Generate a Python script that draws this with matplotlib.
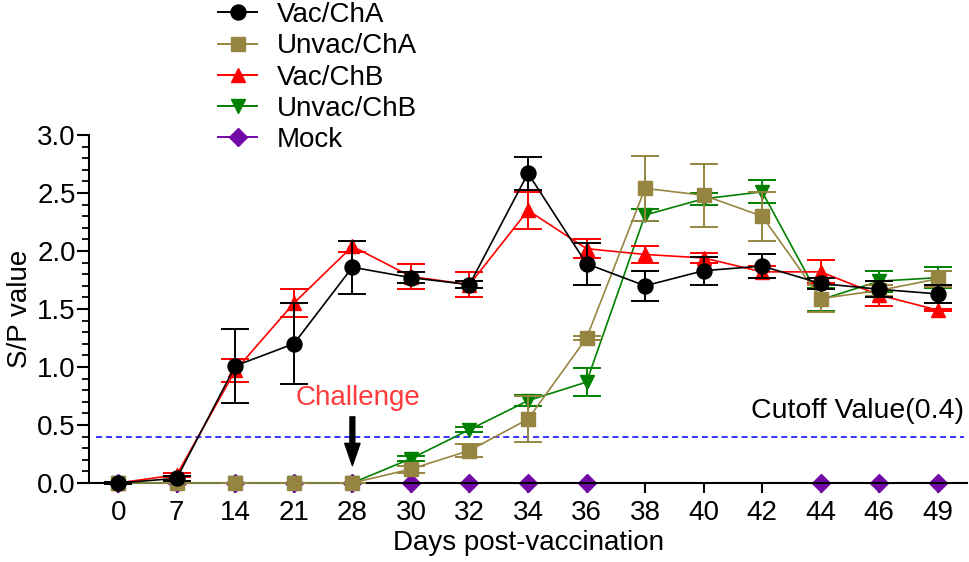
import numpy as np
import matplotlib
matplotlib.use('Agg')
import matplotlib.pyplot as plt
from matplotlib.ticker import MultipleLocator, FormatStrFormatter
from matplotlib.lines import Line2D

plt.rcParams['font.family'] = ['Liberation Sans', 'DejaVu Sans']

# data
days = ['0', '7', '14', '21', '28', '30', '32', '34', '36', '38', '40', '42', '44', '46', '49']

vac_cha = [0, 0.04, 1.01, 1.20, 1.86, 1.77, 1.71, 2.67, 1.89, 1.70, 1.83, 1.87, 1.72, 1.67, 1.63]
vac_cha_err = [0.01, 0.02, 0.32, 0.35, 0.23, 0.05, 0.03, 0.14, 0.18, 0.13, 0.12, 0.10, 0.05, 0.07, 0.075]

unvac_cha = [0, 0, 0, 0, 0, 0.12, 0.28, 0.55, 1.25, 2.54, 2.48, 2.30, 1.59, 1.66, 1.76]
unvac_cha_err = [0, 0, 0, 0, 0, 0.03, 0.06, 0.20, 0.02, 0.28, 0.27, 0.21, 0.12, 0.05, 0.07]

vac_chb = [0, 0.07, 0.97, 1.55, 2.04, 1.78, 1.71, 2.35, 2.02, 1.97, 1.94, 1.82, 1.82, 1.62, 1.49]
vac_chb_err = [0, 0.02, 0.10, 0.12, 0.05, 0.11, 0.11, 0.16, 0.08, 0.07, 0.04, 0.05, 0.10, 0.09, 0.01]

unvac_chb = [0, 0, 0, 0, 0, 0.21, 0.46, 0.71, 0.87, 2.31, 2.45, 2.51, 1.58, 1.74, 1.77]
unvac_chb_err = [0, 0, 0, 0, 0, 0.02, 0.02, 0.05, 0.12, 0.05, 0.05, 0.10, 0.10, 0.09, 0.09]

mock = [0, 0, 0, 0, 0, 0, 0, 0, 0, np.nan, np.nan, np.nan, 0, 0, 0]

cutoff = 0.4
challenge_day = '28'

x = np.arange(len(days))
FS = 20

fig = plt.figure(figsize=(9.69, 5.62), dpi=100)
ax = fig.add_axes([0.0918, 0.1406, 0.9062, 0.6192])

# mock: line joins across the missing days
m = np.array(mock, dtype=float)
ok = ~np.isnan(m)
mock_color = '#7209A6'
ax.plot(x[ok], m[ok], color=mock_color, lw=1.2, marker='D', ms=8.7,
        zorder=2, clip_on=False)

series = [
    ('Vac/ChA', vac_cha, vac_cha_err, '#000000', 'o', 10.8),
    ('Unvac/ChA', unvac_cha, unvac_cha_err, '#968541', 's', 10),
    ('Vac/ChB', vac_chb, vac_chb_err, '#FF0000', '^', 10),
    ('Unvac/ChB', unvac_chb, unvac_chb_err, '#008000', 'v', 10),
]
n = len(series)
legend_handles = []
for i, (name, y, e, c, mk, ms) in enumerate(series):
    h = ax.errorbar(x, y, yerr=e, color=c, ecolor=c, lw=1.2, elinewidth=1.4,
                    capsize=10, capthick=1.4, marker=mk, ms=ms,
                    zorder=3 + n - i, clip_on=False)
    for art in h.lines[1] + h.lines[2]:
        art.set_clip_on(False)
    legend_handles.append(Line2D([], [], color=c, lw=1.4, marker=mk, ms=ms, label=name))
legend_handles.append(Line2D([], [], color=mock_color, lw=1.4, marker='D', ms=8.7, label='Mock'))

# cutoff line
ax.axhline(cutoff, xmin=0.008, xmax=0.997, color='#0000FF', ls=(0, (4, 2.5)), lw=1.1, zorder=1)
ax.text(14.45, 0.62, 'Cutoff Value(0.4)', ha='right', va='center', fontsize=FS + 0.5)

# challenge arrow
cx = days.index(challenge_day)
ax.annotate('', xy=(cx, 0.15), xytext=(cx, 0.57),
            arrowprops=dict(facecolor='black', edgecolor='black', width=3.5,
                            headwidth=11, headlength=16, shrink=0))
ax.text(cx + 0.1, 0.73, 'Challenge', color='#FF3B3B', ha='center', va='center', fontsize=FS)

ax.set_xlim(-0.5, 14.5)
ax.set_ylim(0, 3.0)
ax.set_xticks(x)
ax.set_xticklabels(days)
ax.yaxis.set_major_locator(MultipleLocator(0.5))
ax.yaxis.set_minor_locator(MultipleLocator(0.1))
ax.yaxis.set_major_formatter(FormatStrFormatter('%.1f'))

for s in ['top', 'right']:
    ax.spines[s].set_visible(False)
for s in ['left', 'bottom']:
    ax.spines[s].set_linewidth(1.5)
ax.tick_params(axis='y', which='major', labelsize=FS, width=1.5, length=8.5, pad=1)
ax.tick_params(axis='x', which='major', labelsize=FS, width=1.5, length=7, pad=5)
ax.tick_params(axis='y', which='minor', width=1.3, length=5)

ax.set_xlabel('Days post-vaccination', fontsize=FS, labelpad=3)
ax.set_ylabel('S/P value', fontsize=FS, labelpad=3)

fig.legend(handles=legend_handles, loc='upper left', bbox_to_anchor=(0.208, 1.026),
           frameon=False, fontsize=FS, handlelength=1.4, handletextpad=0.7,
           labelspacing=0.19, borderpad=0.1)

fig.savefig('out.png', dpi=100)
